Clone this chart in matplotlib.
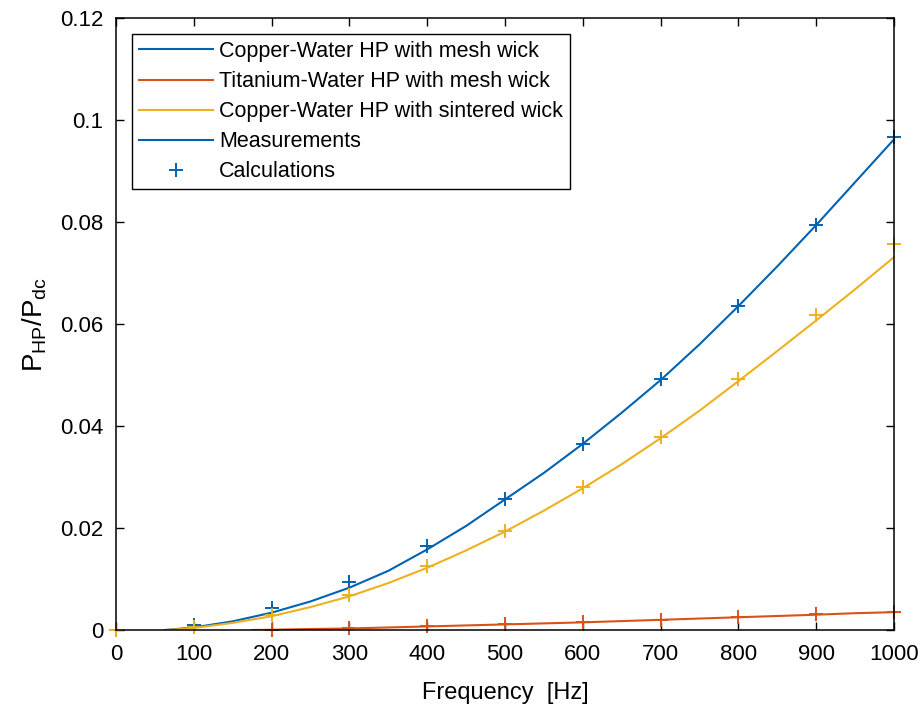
import numpy as np
import matplotlib
matplotlib.use("Agg")
import matplotlib.pyplot as plt

plt.rcParams['font.family'] = ['Liberation Sans', 'DejaVu Sans']
plt.rcParams['mathtext.fontset'] = 'custom'
plt.rcParams['mathtext.rm'] = 'Liberation Sans'

# measured curves (Hz, P_HP/P_dc)
f_cu_mesh = [63, 100, 150, 200, 250, 300, 350, 400, 450, 500, 550, 600, 650, 700, 750, 800, 850, 900, 950, 1000]
p_cu_mesh = [0, 0.0005, 0.0017, 0.0034, 0.0056, 0.0083, 0.0116, 0.0158, 0.0204, 0.0256, 0.0308, 0.0365,
             0.0426, 0.0490, 0.0560, 0.0635, 0.0713, 0.0794, 0.0878, 0.0962]

f_ti_mesh = [175, 200, 250, 300, 350, 400, 450, 500, 550, 600, 650, 700, 750, 800, 850, 900, 950, 1000]
p_ti_mesh = [0, 0.00005, 0.0002, 0.0003, 0.0005, 0.0007, 0.0009, 0.0011, 0.0013, 0.0015, 0.00175, 0.0020,
             0.00225, 0.0025, 0.00275, 0.0030, 0.0033, 0.0035]

f_cu_sint = [65, 100, 150, 200, 250, 300, 350, 400, 450, 500, 550, 600, 650, 700, 750, 800, 850, 900, 950, 1000]
p_cu_sint = [0, 0.0004, 0.0014, 0.0027, 0.0045, 0.0066, 0.0092, 0.0122, 0.0156, 0.0193, 0.0234, 0.0278,
             0.0325, 0.0376, 0.0430, 0.0488, 0.0547, 0.0607, 0.0668, 0.0731]

# calculated points
f_calc = [0, 100, 200, 300, 400, 500, 600, 700, 800, 900, 1000]
c_cu_mesh = [0, 0.0009, 0.0043, 0.0094, 0.0165, 0.0256, 0.0365, 0.0492, 0.0635, 0.0794, 0.0966]
c_ti_mesh = [0, 0.0005, 0.0001, 0.0004, 0.0008, 0.0011, 0.0015, 0.0020, 0.0025, 0.0031, 0.0035]
c_cu_sint = [0, 0.0006, 0.0030, 0.0069, 0.0125, 0.0194, 0.0281, 0.0378, 0.0492, 0.0617, 0.0756]

blue = '#0063B1'
orange = '#D95319'
yellow = '#EDB120'

fig = plt.figure(figsize=(9.24, 7.09), dpi=100)
ax = fig.add_axes([0.1255, 0.1114, 0.842, 0.8632])

l1, = ax.plot(f_cu_mesh, p_cu_mesh, color=blue, lw=1.5)
l2, = ax.plot(f_ti_mesh, p_ti_mesh, color=orange, lw=1.5)
l3, = ax.plot(f_cu_sint, p_cu_sint, color=yellow, lw=1.5)
m1, = ax.plot(f_calc, c_cu_mesh, '+', color=blue, ms=10.5, mew=1.4, clip_on=False)
ax.plot(f_calc, c_ti_mesh, '+', color=orange, ms=10.5, mew=1.4, clip_on=False)
ax.plot(f_calc, c_cu_sint, '+', color=yellow, ms=10.5, mew=1.4, clip_on=False)

ax.set_xlim(0, 1000)
ax.set_ylim(0, 0.12)
ax.set_xticks(np.arange(0, 1001, 100))
ax.set_yticks([0, 0.02, 0.04, 0.06, 0.08, 0.1, 0.12])
ax.set_yticklabels(['0', '0.02', '0.04', '0.06', '0.08', '0.1', '0.12'])
ax.tick_params(direction='in', top=True, right=True, labelsize=16, length=6, width=1)
ax.tick_params(axis='x', pad=10)
ax.tick_params(axis='y', pad=9)
for s in ax.spines.values():
    s.set_linewidth(1.1)

ax.set_xlabel('Frequency  [Hz]', fontsize=17, labelpad=12)
ax.set_ylabel(r'$\mathregular{P_{HP}/P_{dc}}$', fontsize=20, labelpad=8)

leg = ax.legend([l1, l2, l3, l1, m1],
                ['Copper-Water HP with mesh wick', 'Titanium-Water HP with mesh wick',
                 'Copper-Water HP with sintered wick', 'Measurements', 'Calculations'],
                loc='upper left', bbox_to_anchor=(0.021, 0.974), fontsize=15.5, fancybox=False,
                edgecolor='black', framealpha=1, handlelength=3.4, handletextpad=0.3,
                labelspacing=0.42, borderpad=0.33, borderaxespad=0)
leg.get_frame().set_linewidth(1.0)

fig.savefig('out.png', dpi=100)
